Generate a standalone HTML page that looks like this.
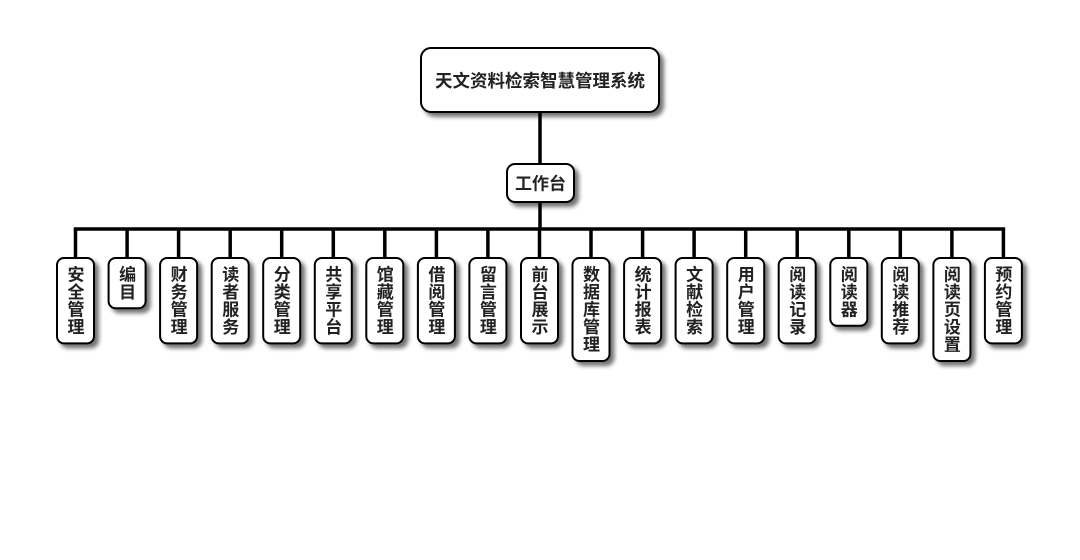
<!DOCTYPE html>
<html><head><meta charset="utf-8">
<style>
html,body{margin:0;padding:0;background:#fff;}
svg{display:block;}
text{font-family:"Liberation Sans","Noto Sans CJK SC",sans-serif;font-weight:bold;fill:#222;font-size:17px;}
.b{fill:#fff;stroke:#000;stroke-width:2;}
</style></head>
<body>
<svg width="1080" height="560" viewBox="0 0 1080 560" xmlns="http://www.w3.org/2000/svg">
<defs>
<filter id="sh" x="-30%" y="-30%" width="160%" height="160%">
<feGaussianBlur in="SourceAlpha" stdDeviation="2.2"/>
<feOffset dx="4" dy="4" result="b"/>
<feComponentTransfer><feFuncA type="linear" slope="0.55"/></feComponentTransfer>
<feMerge><feMergeNode/><feMergeNode in="SourceGraphic"/></feMerge>
</filter>
</defs>
<g stroke="#000" stroke-width="3.5" fill="none">
<line x1="540" y1="112" x2="540" y2="164"/>
<line x1="540" y1="202" x2="540" y2="229"/>
<line x1="73.75" y1="229" x2="1005.15" y2="229"/>
<line x1="75.5" y1="229" x2="75.5" y2="258"/>
<line x1="127.1" y1="229" x2="127.1" y2="258"/>
<line x1="178.6" y1="229" x2="178.6" y2="258"/>
<line x1="230.2" y1="229" x2="230.2" y2="258"/>
<line x1="281.7" y1="229" x2="281.7" y2="258"/>
<line x1="333.3" y1="229" x2="333.3" y2="258"/>
<line x1="384.8" y1="229" x2="384.8" y2="258"/>
<line x1="436.4" y1="229" x2="436.4" y2="258"/>
<line x1="487.9" y1="229" x2="487.9" y2="258"/>
<line x1="539.5" y1="229" x2="539.5" y2="258"/>
<line x1="591" y1="229" x2="591" y2="258"/>
<line x1="642.6" y1="229" x2="642.6" y2="258"/>
<line x1="694.1" y1="229" x2="694.1" y2="258"/>
<line x1="745.7" y1="229" x2="745.7" y2="258"/>
<line x1="797.2" y1="229" x2="797.2" y2="258"/>
<line x1="848.8" y1="229" x2="848.8" y2="258"/>
<line x1="900.3" y1="229" x2="900.3" y2="258"/>
<line x1="951.9" y1="229" x2="951.9" y2="258"/>
<line x1="1003.4" y1="229" x2="1003.4" y2="258"/>
</g>

<rect class="b" x="421" y="48" width="238" height="64" rx="10" ry="10" filter="url(#sh)"/>
<text x="540" y="81" style="font-size:17.5px" text-anchor="middle" dominant-baseline="central">天文资料检索智慧管理系统</text>
<rect class="b" x="507" y="164" width="67" height="38" rx="8" ry="8" filter="url(#sh)"/>
<text x="540.5" y="184" text-anchor="middle" dominant-baseline="central">工作台</text>

<g filter="url(#sh)">
<rect class="b" x="57" y="258" width="37" height="85.4" rx="7"/>
<rect class="b" x="108.6" y="258" width="37" height="50.2" rx="7"/>
<rect class="b" x="160.1" y="258" width="37" height="85.4" rx="7"/>
<rect class="b" x="211.7" y="258" width="37" height="85.4" rx="7"/>
<rect class="b" x="263.2" y="258" width="37" height="85.4" rx="7"/>
<rect class="b" x="314.8" y="258" width="37" height="85.4" rx="7"/>
<rect class="b" x="366.3" y="258" width="37" height="85.4" rx="7"/>
<rect class="b" x="417.9" y="258" width="37" height="85.4" rx="7"/>
<rect class="b" x="469.4" y="258" width="37" height="85.4" rx="7"/>
<rect class="b" x="521" y="258" width="37" height="85.4" rx="7"/>
<rect class="b" x="572.5" y="258" width="37" height="103" rx="7"/>
<rect class="b" x="624.1" y="258" width="37" height="85.4" rx="7"/>
<rect class="b" x="675.6" y="258" width="37" height="85.4" rx="7"/>
<rect class="b" x="727.2" y="258" width="37" height="85.4" rx="7"/>
<rect class="b" x="778.7" y="258" width="37" height="85.4" rx="7"/>
<rect class="b" x="830.3" y="258" width="37" height="67.8" rx="7"/>
<rect class="b" x="881.8" y="258" width="37" height="85.4" rx="7"/>
<rect class="b" x="933.4" y="258" width="37" height="103" rx="7"/>
<rect class="b" x="984.9" y="258" width="37" height="85.4" rx="7"/>
</g>

<g text-anchor="middle" dominant-baseline="central">
<text x="76" y="274.3"><tspan x="76" y="274.3">安</tspan><tspan x="76" y="291.9">全</tspan><tspan x="76" y="309.5">管</tspan><tspan x="76" y="327.1">理</tspan></text>
<text x="127.6" y="274.3"><tspan x="127.6" y="274.3">编</tspan><tspan x="127.6" y="291.9">目</tspan></text>
<text x="179.1" y="274.3"><tspan x="179.1" y="274.3">财</tspan><tspan x="179.1" y="291.9">务</tspan><tspan x="179.1" y="309.5">管</tspan><tspan x="179.1" y="327.1">理</tspan></text>
<text x="230.7" y="274.3"><tspan x="230.7" y="274.3">读</tspan><tspan x="230.7" y="291.9">者</tspan><tspan x="230.7" y="309.5">服</tspan><tspan x="230.7" y="327.1">务</tspan></text>
<text x="282.2" y="274.3"><tspan x="282.2" y="274.3">分</tspan><tspan x="282.2" y="291.9">类</tspan><tspan x="282.2" y="309.5">管</tspan><tspan x="282.2" y="327.1">理</tspan></text>
<text x="333.8" y="274.3"><tspan x="333.8" y="274.3">共</tspan><tspan x="333.8" y="291.9">享</tspan><tspan x="333.8" y="309.5">平</tspan><tspan x="333.8" y="327.1">台</tspan></text>
<text x="385.3" y="274.3"><tspan x="385.3" y="274.3">馆</tspan><tspan x="385.3" y="291.9">藏</tspan><tspan x="385.3" y="309.5">管</tspan><tspan x="385.3" y="327.1">理</tspan></text>
<text x="436.9" y="274.3"><tspan x="436.9" y="274.3">借</tspan><tspan x="436.9" y="291.9">阅</tspan><tspan x="436.9" y="309.5">管</tspan><tspan x="436.9" y="327.1">理</tspan></text>
<text x="488.4" y="274.3"><tspan x="488.4" y="274.3">留</tspan><tspan x="488.4" y="291.9">言</tspan><tspan x="488.4" y="309.5">管</tspan><tspan x="488.4" y="327.1">理</tspan></text>
<text x="540" y="274.3"><tspan x="540" y="274.3">前</tspan><tspan x="540" y="291.9">台</tspan><tspan x="540" y="309.5">展</tspan><tspan x="540" y="327.1">示</tspan></text>
<text x="591.5" y="274.3"><tspan x="591.5" y="274.3">数</tspan><tspan x="591.5" y="291.9">据</tspan><tspan x="591.5" y="309.5">库</tspan><tspan x="591.5" y="327.1">管</tspan><tspan x="591.5" y="344.7">理</tspan></text>
<text x="643.1" y="274.3"><tspan x="643.1" y="274.3">统</tspan><tspan x="643.1" y="291.9">计</tspan><tspan x="643.1" y="309.5">报</tspan><tspan x="643.1" y="327.1">表</tspan></text>
<text x="694.6" y="274.3"><tspan x="694.6" y="274.3">文</tspan><tspan x="694.6" y="291.9">献</tspan><tspan x="694.6" y="309.5">检</tspan><tspan x="694.6" y="327.1">索</tspan></text>
<text x="746.2" y="274.3"><tspan x="746.2" y="274.3">用</tspan><tspan x="746.2" y="291.9">户</tspan><tspan x="746.2" y="309.5">管</tspan><tspan x="746.2" y="327.1">理</tspan></text>
<text x="797.7" y="274.3"><tspan x="797.7" y="274.3">阅</tspan><tspan x="797.7" y="291.9">读</tspan><tspan x="797.7" y="309.5">记</tspan><tspan x="797.7" y="327.1">录</tspan></text>
<text x="849.3" y="274.3"><tspan x="849.3" y="274.3">阅</tspan><tspan x="849.3" y="291.9">读</tspan><tspan x="849.3" y="309.5">器</tspan></text>
<text x="900.8" y="274.3"><tspan x="900.8" y="274.3">阅</tspan><tspan x="900.8" y="291.9">读</tspan><tspan x="900.8" y="309.5">推</tspan><tspan x="900.8" y="327.1">荐</tspan></text>
<text x="952.4" y="274.3"><tspan x="952.4" y="274.3">阅</tspan><tspan x="952.4" y="291.9">读</tspan><tspan x="952.4" y="309.5">页</tspan><tspan x="952.4" y="327.1">设</tspan><tspan x="952.4" y="344.7">置</tspan></text>
<text x="1003.9" y="274.3"><tspan x="1003.9" y="274.3">预</tspan><tspan x="1003.9" y="291.9">约</tspan><tspan x="1003.9" y="309.5">管</tspan><tspan x="1003.9" y="327.1">理</tspan></text>
</g>
</svg>
</body></html>
